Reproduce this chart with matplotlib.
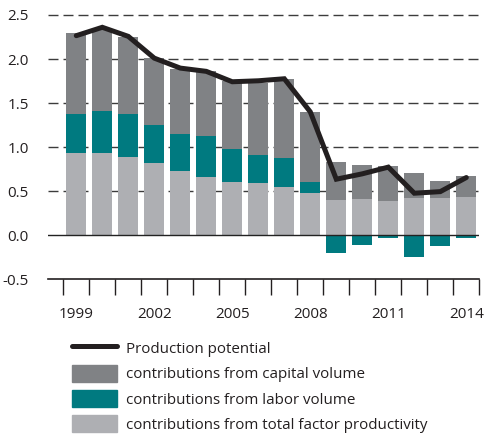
import matplotlib
matplotlib.use("Agg")
import matplotlib.pyplot as plt
from matplotlib.lines import Line2D
from matplotlib.patches import Patch
import numpy as np

plt.rcParams['font.family'] = ['Open Sans', 'DejaVu Sans']

years = list(range(1999, 2015))
tfp = [0.935, 0.935, 0.89, 0.82, 0.73, 0.663, 0.606, 0.594, 0.549, 0.481,
       0.401, 0.413, 0.39, 0.424, 0.424, 0.435]
labor = [0.443, 0.475, 0.488, 0.433, 0.42, 0.465, 0.375, 0.317, 0.329, 0.125,
         -0.201, -0.11, -0.03, -0.246, -0.121, -0.03]
capital = [0.912, 0.94, 0.877, 0.757, 0.74, 0.739, 0.764, 0.816, 0.898, 0.794,
           0.432, 0.386, 0.398, 0.284, 0.193, 0.239]
potential = [2.265, 2.36, 2.257, 2.01, 1.897, 1.86, 1.742, 1.753, 1.776, 1.40,
             0.636, 0.697, 0.773, 0.477, 0.495, 0.655]
xtick_labels = ['1999', '2002', '2005', '2008', '2011', '2014']

c_cap = '#808285'
c_lab = '#007a80'
c_tfp = '#aeafb3'
c_line = '#231f20'

fig = plt.figure(figsize=(4.86, 4.37), dpi=100)
ax = fig.add_axes([48/486, 1 - 279.3/437, (479.3-48)/486, (279.3-13.2)/437])

x = np.arange(len(years))
w = 0.77
tfp_a = np.array(tfp)
lab_a = np.array(labor)
cap_a = np.array(capital)
lab_pos = np.where(lab_a > 0, lab_a, 0)

# gridlines
for v in [0.5, 1.0, 1.5, 2.0, 2.5]:
    ax.axhline(v, color='#3c3c3c', lw=1.0, ls=(0, (7.2, 3.6)), zorder=0)

ax.bar(x, tfp_a, w, color=c_tfp, zorder=2)
ax.bar(x, lab_a, w, bottom=np.where(lab_a > 0, tfp_a, 0), color=c_lab, zorder=2)
ax.bar(x, cap_a, w, bottom=tfp_a + lab_pos, color=c_cap, zorder=2)
ax.axhline(0, color='#222222', lw=1.0, zorder=3)
ax.plot(x, potential, color=c_line, lw=3.6, solid_joinstyle='miter', solid_capstyle='round', zorder=4)

ax.set_xlim(-1.088, 15.5)
ax.set_ylim(-0.5, 2.52)
ax.set_yticks([-0.5, 0.0, 0.5, 1.0, 1.5, 2.0, 2.5])
ax.set_yticklabels(['-0.5', '0.0', '0.5', '1.0', '1.5', '2.0', '2.5'])
ax.tick_params(axis='y', length=0, pad=14, labelsize=11, labelcolor='#231f20')

ax.set_xticks(np.arange(-0.5, 16, 1.0))
ax.set_xticklabels([])
ax.set_xticks([0, 3, 6, 9, 12, 15], minor=True)
ax.set_xticklabels(xtick_labels, minor=True)
ax.tick_params(axis='x', which='major', length=11.5, width=1.0, direction='out', color='#231f20')
ax.tick_params(axis='x', which='minor', length=0, pad=20, labelsize=11, labelcolor='#231f20')

for s in ['left', 'right', 'top']:
    ax.spines[s].set_visible(False)
ax.spines['bottom'].set_linewidth(1.2)
ax.spines['bottom'].set_color('#231f20')

handles = [Line2D([0], [0], color=c_line, lw=3.6, solid_capstyle='round'),
           Patch(color=c_cap), Patch(color=c_lab), Patch(color=c_tfp)]
labels = ['Production potential', 'contributions from capital volume',
          'contributions from labor volume', 'contributions from total factor productivity']
fig.legend(handles, labels, loc='upper left', bbox_to_anchor=(67/486, 1 - 335/437),
           frameon=False, fontsize=10.9, handlelength=2.97, handleheight=1.32,
           handletextpad=0.62, labelspacing=0.52, borderaxespad=0, borderpad=0.3,
           labelcolor='#231f20')

fig.savefig('out.png', dpi=100)
